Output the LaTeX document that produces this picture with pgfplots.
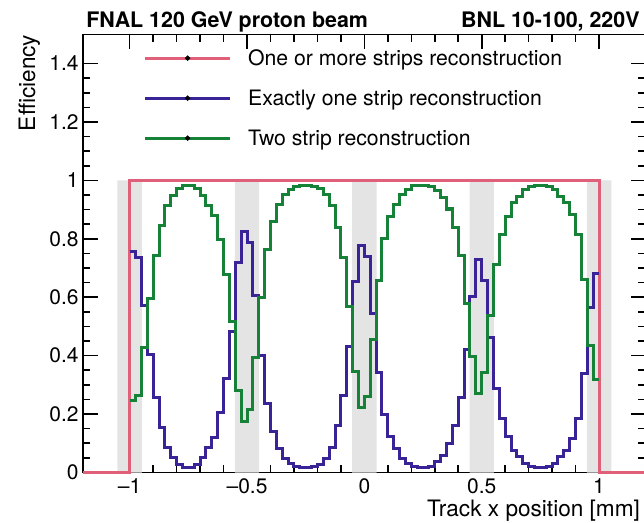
\documentclass[border=0pt]{standalone}
\usepackage{fontspec}
\setmainfont{TeX Gyre Heros}
\usepackage{pgfplots}
\usepackage{pgfplotstable}
\pgfplotsset{compat=1.18}
\definecolor{cred}{RGB}{224,96,122}
\definecolor{cblue}{RGB}{58,35,150}
\definecolor{cgreen}{RGB}{22,130,55}
\definecolor{cband}{RGB}{228,228,228}

\pgfplotstableread{
x blue green
-1.000 0.755 0.245
-0.975 0.735 0.265
-0.950 0.572 0.428
-0.925 0.404 0.596
-0.900 0.256 0.744
-0.875 0.153 0.847
-0.850 0.086 0.914
-0.825 0.051 0.949
-0.800 0.028 0.972
-0.775 0.017 0.983
-0.750 0.017 0.983
-0.725 0.028 0.972
-0.700 0.051 0.949
-0.675 0.085 0.915
-0.650 0.120 0.880
-0.625 0.204 0.796
-0.600 0.323 0.677
-0.575 0.484 0.516
-0.550 0.720 0.280
-0.525 0.826 0.174
-0.500 0.786 0.214
-0.475 0.606 0.394
-0.450 0.402 0.598
-0.425 0.237 0.763
-0.400 0.140 0.860
-0.375 0.082 0.918
-0.350 0.048 0.952
-0.325 0.030 0.970
-0.300 0.020 0.980
-0.275 0.017 0.983
-0.250 0.017 0.983
-0.225 0.020 0.980
-0.200 0.028 0.972
-0.175 0.047 0.953
-0.150 0.087 0.913
-0.125 0.161 0.839
-0.100 0.263 0.737
-0.075 0.433 0.567
-0.050 0.655 0.345
-0.025 0.777 0.223
0.000 0.740 0.260
0.025 0.545 0.455
0.050 0.344 0.656
0.075 0.200 0.800
0.100 0.122 0.878
0.125 0.082 0.918
0.150 0.049 0.951
0.175 0.030 0.970
0.200 0.019 0.981
0.225 0.017 0.983
0.250 0.017 0.983
0.275 0.022 0.978
0.300 0.036 0.964
0.325 0.058 0.942
0.350 0.098 0.902
0.375 0.161 0.839
0.400 0.257 0.743
0.425 0.420 0.580
0.450 0.604 0.396
0.475 0.730 0.270
0.500 0.656 0.344
0.525 0.463 0.537
0.550 0.287 0.713
0.575 0.185 0.815
0.600 0.122 0.878
0.625 0.077 0.923
0.650 0.054 0.946
0.675 0.031 0.969
0.700 0.020 0.980
0.725 0.018 0.982
0.750 0.018 0.982
0.775 0.020 0.980
0.800 0.031 0.969
0.825 0.054 0.946
0.850 0.077 0.923
0.875 0.117 0.883
0.900 0.185 0.815
0.925 0.338 0.662
0.950 0.565 0.435
0.975 0.680 0.320
1.000 0.680 0.320
}\effdata

\begin{document}
\begin{tikzpicture}
\begin{axis}[
  scale only axis, width=281.5pt, height=219pt,
  xmin=-1.2, xmax=1.2, ymin=0, ymax=1.5,
  clip=false,
  axis line style={line width=0.8pt},
  tick style={line width=0.8pt, black},
  major tick length=7.5pt, minor tick length=3.8pt,
  tick align=inside, tick pos=both,
  xtick={-1,-0.5,0,0.5,1},
  xticklabels={\textendash1,\textendash0.5,0,0.5,1},
  minor x tick num=4,
  ytick={0,0.2,0.4,0.6,0.8,1,1.2,1.4},
  minor y tick num=3,
  /pgf/number format/assume math mode=true,
  ticklabel style={font=\fontsize{10.5}{12}\selectfont},
  xticklabel style={inner sep=0pt, yshift=-2.75pt, anchor=north},
  yticklabel style={inner sep=0pt, xshift=-1.85pt, anchor=east},
  xlabel={Track x position [mm]},
  ylabel={Efficiency},
  label style={font=\fontsize{11.3}{13}\selectfont},
  x label style={at={(axis description cs:0.99,-0.0993)}, anchor=base east, inner sep=0pt},
  y label style={at={(axis description cs:-0.0847,1)}, anchor=base east, inner sep=0pt},
  legend style={at={(axis description cs:0.108,0.963)}, anchor=north west, draw=none, fill=none,
    inner sep=0pt, outer sep=0pt, row sep=12.4pt, column sep=8.25pt,
    font=\fontsize{10.6}{12}\selectfont,
    nodes={inner sep=0pt, text height=7.6pt, text depth=0pt}},
  legend cell align=left,
  legend image code/.code={\draw[#1] (0pt,0pt) -- (42.5pt,0pt); \fill[black] (21.25pt,0pt) circle (0.35pt);},
]
\addplot[fill=cband, draw=none, forget plot] coordinates {(-1.052,0) (-1.052,1) (-0.948,1) (-0.948,0)} \closedcycle;
\addplot[fill=cband, draw=none, forget plot] coordinates {(-0.552,0) (-0.552,1) (-0.448,1) (-0.448,0)} \closedcycle;
\addplot[fill=cband, draw=none, forget plot] coordinates {(-0.052,0) (-0.052,1) (0.052,1) (0.052,0)} \closedcycle;
\addplot[fill=cband, draw=none, forget plot] coordinates {(0.448,0) (0.448,1) (0.552,1) (0.552,0)} \closedcycle;
\addplot[fill=cband, draw=none, forget plot] coordinates {(0.948,0) (0.948,1) (1.052,1) (1.052,0)} \closedcycle;

\addplot[cred, line width=1.5pt, sharp plot] coordinates {(-1.2,0) (-1,0) (-1,1) (1,1) (1,0) (1.2,0)};
\addlegendentry{One or more strips reconstruction}
\addplot[cblue, line width=1.5pt, const plot mark left] table[x=x, y=blue] {\effdata};
\addlegendentry{Exactly one strip reconstruction}
\addplot[cgreen, line width=1.5pt, const plot mark left] table[x=x, y=green] {\effdata};
\addlegendentry{Two strip reconstruction}

\coordinate (SW) at (rel axis cs:0,0);
\coordinate (NE) at (rel axis cs:1,1);
\coordinate (NW) at (rel axis cs:0,1);
\end{axis}
\node[anchor=base west, inner sep=0pt, font=\bfseries\fontsize{10.7}{12}\selectfont] at ([xshift=1.6pt, yshift=3.5pt]NW) {FNAL 120 GeV proton beam};
\node[anchor=base east, inner sep=0pt, font=\bfseries\fontsize{10.7}{12}\selectfont] at ([xshift=-3pt, yshift=3.5pt]NE) {BNL 10-100, 220V};
\pgfresetboundingbox
\path[use as bounding box] ([xshift=-41.35pt, yshift=-24.75pt]SW) rectangle ([xshift=-1pt, yshift=17.15pt]NE);
\end{tikzpicture}
\end{document}
